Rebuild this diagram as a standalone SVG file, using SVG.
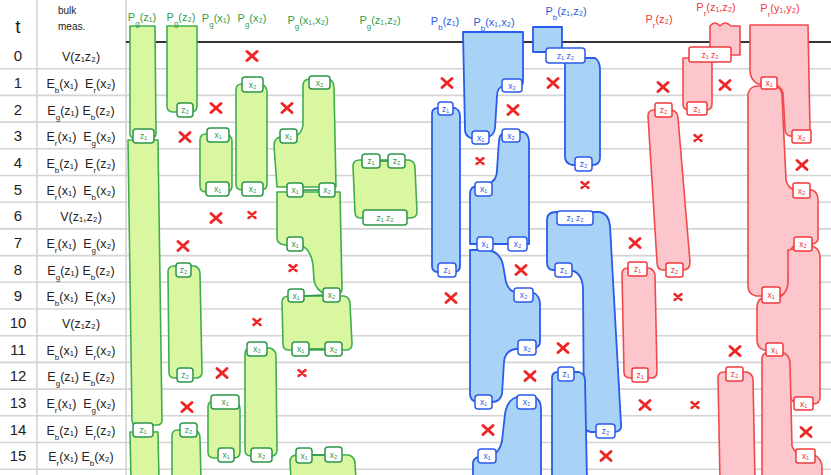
<svg xmlns="http://www.w3.org/2000/svg" xmlns:xlink="http://www.w3.org/1999/xlink" width="831" height="475" viewBox="0 0 831 475">
<style>
text{font-family:"Liberation Sans","DejaVu Sans",sans-serif}
.grid{stroke:#d4d4d4;stroke-width:1.6}
.row{font-size:12.5px;fill:#222;text-anchor:middle}
.tn{font-size:15px;fill:#222;text-anchor:middle}
.sb{font-size:8px;baseline-shift:sub}
.hg{font-size:11px;fill:#2f9d4c;text-anchor:middle}
.hb{font-size:11px;fill:#2b5ce6;text-anchor:middle}
.hr{font-size:11px;fill:#ef3a3a;text-anchor:middle}
.G{fill:#d9f6a0;stroke:#3fae4f;stroke-width:1.6;stroke-linejoin:round}
.B{fill:#a9d2f7;stroke:#2a5bea;stroke-width:1.8;stroke-linejoin:round}
.R{fill:#fcc6cc;stroke:#f2494b;stroke-width:1.6;stroke-linejoin:round}
.ng rect{fill:#fff;stroke:#2c9748;stroke-width:1.5}
.nb rect{fill:#fff;stroke:#2a5bea;stroke-width:1.5}
.nr rect{fill:#fff;stroke:#f0393d;stroke-width:1.5}
.ng text{fill:#2c9748}.nb text{fill:#2a5bea}.nr text{fill:#ee3336}
.n text{font-size:8.5px;text-anchor:middle;dominant-baseline:central}
.cg{stroke:#2c9748;stroke-width:1.6;fill:none}
.cb{stroke:#2a5bea;stroke-width:1.6;fill:none}
.xm{stroke:#f02626;stroke-width:3;stroke-linecap:round;fill:none}
</style>
<defs>
<path id="X" class="xm" d="M-5,-4.5 L5,4.5 M5,-4.5 L-5,4.5"/>
<path id="x" class="xm" d="M-3.5,-3 L3.5,3 M3.5,-3 L-3.5,3" style="stroke-width:2.5"/>
</defs>
<rect width="831" height="475" fill="#fff"/>
<g id="grid">
<line class="grid" x1="37" y1="0" x2="37" y2="475"/>
<line class="grid" x1="126" y1="0" x2="126" y2="475"/>
<g class="grid">
<line x1="0" y1="68.7" x2="831" y2="68.7"/><line x1="0" y1="95.4" x2="831" y2="95.4"/>
<line x1="0" y1="122.1" x2="831" y2="122.1"/><line x1="0" y1="148.8" x2="831" y2="148.8"/>
<line x1="0" y1="175.5" x2="831" y2="175.5"/><line x1="0" y1="202.2" x2="831" y2="202.2"/>
<line x1="0" y1="228.9" x2="831" y2="228.9"/><line x1="0" y1="255.6" x2="831" y2="255.6"/>
<line x1="0" y1="282.3" x2="831" y2="282.3"/><line x1="0" y1="309" x2="831" y2="309"/>
<line x1="0" y1="335.7" x2="831" y2="335.7"/><line x1="0" y1="362.4" x2="831" y2="362.4"/>
<line x1="0" y1="389.1" x2="831" y2="389.1"/><line x1="0" y1="415.8" x2="831" y2="415.8"/>
<line x1="0" y1="442.5" x2="831" y2="442.5"/><line x1="0" y1="469.2" x2="831" y2="469.2"/>
</g>
<line x1="126" y1="42" x2="831" y2="42" stroke="#333" stroke-width="2"/>
</g>
<g id="regions">
<path class="G" d="M130,26 L155,26 L156,133 Q156,138 151,138 L134,138 Q130,138 130,133 Z"/>
<path class="G" d="M128,140 L158,140 L162,420 Q162,425 157,425 L137,425 Q132,425 132,420 Z"/>
<path class="G" d="M130,432 L158,432 L159,480 L131,480 Z"/>
<path class="G" d="M167,26 L197,26 L197,106 Q197,112 191,112 L173,112 Q167,112 167,106 Z"/>
<path class="G" d="M168,272 Q168,266 174,266 L195,266 Q200,268 200,274 L202,372 Q202,378 196,378 L174,378 Q169,378 169,372 Z"/>
<path class="G" d="M172,436 Q172,430 178,430 L195,430 Q200,432 200,438 L201,480 L172,480 Z"/>
<path class="G" d="M200,140 Q200,134 206,134 L227,134 Q232,136 232,142 L232,186 Q232,192 226,192 L206,192 Q200,192 200,186 Z"/>
<path class="G" d="M208,407 Q208,401 214,401 L234,401 Q240,403 240,409 L240,452 Q240,458 234,458 L214,458 Q208,458 208,452 Z"/>
<path class="G" d="M236,90 Q236,84 242,84 L261,84 Q267,86 267,92 L267,184 Q267,190 261,190 L242,190 Q236,190 236,184 Z"/>
<path class="G" d="M245,354 Q245,348 251,348 L270,348 Q276,350 276,356 L277,450 Q277,456 271,456 L251,456 Q245,456 245,450 Z"/>
<path class="G" d="M303,86 Q303,79 310,79 L328,79 Q334,80 334,88 L336,187 L277,187 L274,146 Q274,137 282,137 L294,137 Q302,134 303,125 Z"/>
<path class="G" d="M277,192 L340,192 L342,289 Q342,294 336,294 L326,294 Q316,291 314,280 L313,265 Q311,249 300,245 L285,245 Q277,244 277,238 Z"/>
<path class="G" d="M282,302 Q282,296 290,296 L344,296 Q350,297 350,304 L352,344 Q352,350 346,350 L288,350 Q283,350 283,344 Z"/>
<path class="G" d="M290,462 Q290,455 297,455 L349,455 Q355,457 355,464 L356,480 L291,480 Z"/>
<path class="G" d="M353,166 Q353,160 360,160 L409,160 Q415,161 415,168 L417,212 Q417,218 410,218 L360,218 Q355,218 355,212 Z"/>
<path class="B" d="M432,114 Q432,108 438,108 L455,108 Q460,110 460,116 L460,266 Q460,272 454,272 L438,272 Q432,272 432,266 Z"/>
<path class="B" d="M463,32 L523,32 L523,82 Q523,86 517,86 L503,86 Q497,88 497,96 L495,128 Q494,137 486,137 L471,138 Q465,136 465,130 Z"/>
<path class="B" d="M499,140 Q500,132 508,132 L523,132 Q529,134 529,142 L529,244 L470,244 L470,194 Q470,186 478,186 L488,184 Q497,181 497,170 Z"/>
<path class="B" d="M470,250 L488,250 Q500,252 503,265 L506,282 Q509,293 520,293 L534,293 Q540,296 540,305 L540,342 Q540,348 532,348 L515,349 Q505,351 504,362 L502,394 Q500,402 492,402 L476,402 Q470,400 470,394 Z"/>
<path class="B" d="M517,397 L534,397 Q541,399 541,409 L541,480 L473,480 L473,462 Q475,456 484,456 L493,455 Q500,451 502,441 L505,414 Q507,400 517,397 Z"/>
<path class="B" d="M533,27 L562,27 L562,52 L533,52 Z"/>
<path class="B" d="M565,58 L595,58 Q600,61 600,70 L600,158 Q600,165 592,165 L572,165 Q565,163 565,157 Z"/>
<path class="B" d="M547,220 Q547,212 556,212 L600,212 Q609,214 610,226 L621,424 Q622,431 615,432 L591,432 Q584,431 584,424 L583,288 Q582,272 570,270 L553,270 Q547,270 547,262 Z"/>
<path class="B" d="M552,378 Q552,372 558,372 L579,372 Q585,374 585,380 L587,480 L552,480 Z"/>
<path class="R" d="M648,116 Q648,110 654,110 L672,110 Q678,112 678,118 L690,262 Q690,270 683,270 L663,270 Q657,270 657,262 Z"/>
<path class="R" d="M622,274 Q622,268 628,268 L649,268 Q655,270 655,276 L657,372 Q657,378 651,378 L630,378 Q624,378 624,372 Z"/>
<path class="R" d="M710,26 Q715,20 720,26 Q725,20 731,26 L740,26 L740,55 L710,55 Z"/>
<path class="R" d="M683,58 L712,58 L712,104 Q712,110 706,110 L689,110 Q683,110 683,104 Z"/>
<path class="R" d="M718,378 Q718,372 724,372 L747,372 Q753,374 753,380 L755,480 L720,480 Z"/>
<path class="R" d="M750,25 L808,25 L810,130 Q810,136 804,136 L790,136 Q785,135 785,128 L783,93 Q780,84 772,84 L758,84 Q750,80 750,70 Z"/>
<path class="R" d="M748,94 Q750,86 758,86 L775,86 Q782,88 782,96 L786,180 Q788,189 796,190 L812,190 Q818,192 818,200 L818,238 Q818,243 812,244 L798,244 Q790,246 790,256 L788,286 Q786,296 777,296 L756,296 Q748,294 748,286 Z"/>
<path class="R" d="M788,250 L812,246 Q820,248 820,258 L820,397 Q820,404 813,404 L798,404 Q790,402 790,394 L787,360 Q785,350 777,350 L764,350 Q757,348 757,340 L757,306 Q758,297 768,297 L780,297 Q788,292 788,282 Z"/>
<path class="R" d="M762,358 Q763,352 770,352 L782,352 Q790,355 790,364 L792,446 Q795,455 805,455 L814,455 Q822,458 822,468 L822,480 L762,480 Z"/>
</g>
<g id="labels">
<text class="tn" x="18" y="33" style="font-size:19px">t</text>
<text x="58" y="14" style="font-size:10px;fill:#222">bulk</text>
<text x="58" y="30" style="font-size:10px;fill:#222">meas.</text>
<text class="tn" x="18" y="61">0</text><text class="tn" x="18" y="88">1</text><text class="tn" x="18" y="115">2</text>
<text class="tn" x="18" y="141">3</text><text class="tn" x="18" y="168">4</text><text class="tn" x="18" y="195">5</text>
<text class="tn" x="18" y="221">6</text><text class="tn" x="18" y="248">7</text><text class="tn" x="18" y="275">8</text>
<text class="tn" x="18" y="301">9</text><text class="tn" x="18" y="328">10</text><text class="tn" x="18" y="355">11</text>
<text class="tn" x="18" y="381">12</text><text class="tn" x="18" y="408">13</text><text class="tn" x="18" y="435">14</text>
<text class="tn" x="18" y="461">15</text>
<text class="row" x="81" y="61">V(z₁z₂)</text>
<text class="row" x="81" y="88">E<tspan class="sb">b</tspan>(x₁)&#160;&#160;E<tspan class="sb">r</tspan>(x₂)</text>
<text class="row" x="81" y="115">E<tspan class="sb">g</tspan>(z₁) E<tspan class="sb">b</tspan>(z₂)</text>
<text class="row" x="81" y="141">E<tspan class="sb">r</tspan>(x₁)&#160;&#160;E<tspan class="sb">g</tspan>(x₂)</text>
<text class="row" x="81" y="168">E<tspan class="sb">b</tspan>(z₁)&#160;&#160;E<tspan class="sb">r</tspan>(z₂)</text>
<text class="row" x="81" y="195">E<tspan class="sb">r</tspan>(x₁)&#160;&#160;E<tspan class="sb">b</tspan>(x₂)</text>
<text class="row" x="81" y="221">V(z₁,z₂)</text>
<text class="row" x="81" y="248">E<tspan class="sb">r</tspan>(x₁)&#160;&#160;E<tspan class="sb">g</tspan>(x₂)</text>
<text class="row" x="81" y="275">E<tspan class="sb">g</tspan>(z₁) E<tspan class="sb">b</tspan>(z₂)</text>
<text class="row" x="81" y="301">E<tspan class="sb">b</tspan>(x₁)&#160;&#160;E<tspan class="sb">r</tspan>(x₂)</text>
<text class="row" x="81" y="328">V(z₁z₂)</text>
<text class="row" x="81" y="355">E<tspan class="sb">b</tspan>(x₁)&#160;&#160;E<tspan class="sb">r</tspan>(x₂)</text>
<text class="row" x="81" y="381">E<tspan class="sb">g</tspan>(z₁) E<tspan class="sb">b</tspan>(z₂)</text>
<text class="row" x="81" y="408">E<tspan class="sb">r</tspan>(x₁)&#160;&#160;E<tspan class="sb">g</tspan>(x₂)</text>
<text class="row" x="81" y="435">E<tspan class="sb">b</tspan>(z₁)&#160;&#160;E<tspan class="sb">r</tspan>(z₂)</text>
<text class="row" x="81" y="461">E<tspan class="sb">r</tspan>(x₁) E<tspan class="sb">b</tspan>(x₂)</text>
<text class="hg" x="142" y="21">P<tspan class="sb">g</tspan>(z₁)</text>
<text class="hg" x="181" y="21">P<tspan class="sb">g</tspan>(z₂)</text>
<text class="hg" x="216" y="22">P<tspan class="sb">g</tspan>(x₁)</text>
<text class="hg" x="252" y="22">P<tspan class="sb">g</tspan>(x₂)</text>
<text class="hg" x="308" y="24">P<tspan class="sb">g</tspan>(x₁,x₂)</text>
<text class="hg" x="380" y="24">P<tspan class="sb">g</tspan>(z₁,z₂)</text>
<text class="hb" x="445" y="25">P<tspan class="sb">b</tspan>(z₁)</text>
<text class="hb" x="494" y="26">P<tspan class="sb">b</tspan>(x₁,x₂)</text>
<text class="hb" x="566" y="15">P<tspan class="sb">b</tspan>(z₁,z₂)</text>
<text class="hr" x="659" y="23">P<tspan class="sb">r</tspan>(z₂)</text>
<text class="hr" x="716" y="11">P<tspan class="sb">r</tspan>(z₁,z₂)</text>
<text class="hr" x="780" y="12">P<tspan class="sb">r</tspan>(y₁,y₂)</text>
</g>
<g id="connectors">
<path class="cg" d="M303,190 L319,190"/>
<path class="cg" d="M304,296 L323,295"/>
<path class="cg" d="M308,349 L324,349"/>
<path class="cg" d="M312,455 L325,455"/>
<path class="cb" d="M493,244 L508,244"/>
<path class="cg" d="M380,161 L388,161"/>
</g>
<g id="nodes" class="n">
<g id="n-g-z1-3" class="ng"><rect x="133" y="129" width="21" height="14" rx="3"/><text x="143.5" y="136">z₁</text></g>
<g id="n-g-z1-14" class="ng"><rect x="133" y="423" width="20" height="14" rx="3"/><text x="143" y="430">z₁</text></g>
<g id="n-g-z2-2" class="ng"><rect x="177" y="103" width="16" height="14" rx="3"/><text x="185" y="110">z₂</text></g>
<g id="n-g-z2-8" class="ng"><rect x="176" y="263" width="15" height="14" rx="3"/><text x="183.5" y="270">z₂</text></g>
<g id="n-g-z2-12" class="ng"><rect x="177" y="368" width="16" height="14" rx="3"/><text x="185" y="375">z₂</text></g>
<g id="n-g-z2-14" class="ng"><rect x="180" y="423" width="17" height="14" rx="3"/><text x="188.5" y="430">z₂</text></g>
<g id="n-g-x1-3" class="ng"><rect x="207" y="128" width="22" height="14" rx="3"/><text x="218" y="135">x₁</text></g>
<g id="n-g-x1-5" class="ng"><rect x="206" y="182" width="23" height="14" rx="3"/><text x="217.5" y="189">x₁</text></g>
<g id="n-g-x1-13" class="ng"><rect x="211" y="395" width="28" height="14" rx="3"/><text x="225" y="402">x₁</text></g>
<g id="n-g-x1-15" class="ng"><rect x="218" y="448" width="16" height="14" rx="3"/><text x="226" y="455">x₁</text></g>
<g id="n-g-x2-1" class="ng"><rect x="242" y="77" width="21" height="15" rx="3"/><text x="252.5" y="84.5">x₂</text></g>
<g id="n-g-x2-5" class="ng"><rect x="242" y="182" width="21" height="14" rx="3"/><text x="252.5" y="189">x₂</text></g>
<g id="n-g-x2-11" class="ng"><rect x="247" y="342" width="20" height="14" rx="3"/><text x="257" y="349">x₂</text></g>
<g id="n-g-x2-15" class="ng"><rect x="251" y="448" width="21" height="14" rx="3"/><text x="261.5" y="455">x₂</text></g>
<g id="n-g12-x2-1" class="ng"><rect x="309" y="76" width="21" height="13" rx="3"/><text x="319.5" y="82.5">x₂</text></g>
<g id="n-g12-x1-3" class="ng"><rect x="280" y="129" width="17" height="14" rx="3"/><text x="288.5" y="136">x₁</text></g>
<g id="n-g12-x1-5" class="ng"><rect x="287" y="183" width="16" height="14" rx="3"/><text x="295" y="190">x₁</text></g>
<g id="n-g12-x2-5" class="ng"><rect x="319" y="183" width="16" height="14" rx="3"/><text x="327" y="190">x₂</text></g>
<g id="n-g12-x1-7" class="ng"><rect x="287" y="237" width="16" height="14" rx="3"/><text x="295" y="244">x₁</text></g>
<g id="n-g12-x1-9" class="ng"><rect x="288" y="289" width="16" height="13" rx="3"/><text x="296" y="295.5">x₁</text></g>
<g id="n-g12-x2-9" class="ng"><rect x="323" y="288" width="17" height="14" rx="3"/><text x="331.5" y="295">x₂</text></g>
<g id="n-g12-x1-11" class="ng"><rect x="292" y="342" width="17" height="14" rx="3"/><text x="300.5" y="349">x₁</text></g>
<g id="n-g12-x2-11" class="ng"><rect x="325" y="342" width="17" height="14" rx="3"/><text x="333.5" y="349">x₂</text></g>
<g id="n-g12-x1-15" class="ng"><rect x="296" y="448" width="16" height="15" rx="3"/><text x="304" y="455.5">x₁</text></g>
<g id="n-g12-x2-15" class="ng"><rect x="325" y="447" width="17" height="15" rx="3"/><text x="333.5" y="454.5">x₂</text></g>
<g id="n-gz-z1" class="ng"><rect x="362" y="154" width="18" height="14" rx="3"/><text x="371" y="161">z₁</text></g>
<g id="n-gz-z2" class="ng"><rect x="388" y="154" width="17" height="14" rx="3"/><text x="396.5" y="161">z₂</text></g>
<g id="n-gz-z12" class="ng"><rect x="363" y="210" width="44" height="15" rx="3"/><text x="385" y="217.5">z₁ z₂</text></g>
<g id="n-b-z1-2" class="nb"><rect x="438" y="102" width="15" height="13" rx="3"/><text x="445.5" y="108.5">z₁</text></g>
<g id="n-b-z1-8" class="nb"><rect x="438" y="263" width="18" height="14" rx="3"/><text x="447" y="270">z₁</text></g>
<g id="n-b-x2-1" class="nb"><rect x="502" y="79" width="20" height="13" rx="3"/><text x="512" y="85.5">x₂</text></g>
<g id="n-b-x1-3" class="nb"><rect x="472" y="131" width="17" height="13" rx="3"/><text x="480.5" y="137.5">x₁</text></g>
<g id="n-b-x2-3" class="nb"><rect x="502" y="129" width="18" height="13" rx="3"/><text x="511" y="135.5">x₂</text></g>
<g id="n-b-x1-5" class="nb"><rect x="475" y="182" width="17" height="14" rx="3"/><text x="483.5" y="189">x₁</text></g>
<g id="n-b-x1-7" class="nb"><rect x="477" y="237" width="16" height="14" rx="3"/><text x="485" y="244">x₁</text></g>
<g id="n-b-x2-7" class="nb"><rect x="508" y="237" width="19" height="14" rx="3"/><text x="517.5" y="244">x₂</text></g>
<g id="n-b-x2-9" class="nb"><rect x="514" y="288" width="19" height="14" rx="3"/><text x="523.5" y="295">x₂</text></g>
<g id="n-b-x2-11" class="nb"><rect x="518" y="340" width="18" height="15" rx="3"/><text x="527" y="347.5">x₂</text></g>
<g id="n-b-x1-13" class="nb"><rect x="475" y="395" width="17" height="14" rx="3"/><text x="483.5" y="402">x₁</text></g>
<g id="n-b-x2-13" class="nb"><rect x="517" y="395" width="19" height="14" rx="3"/><text x="526.5" y="402">x₂</text></g>
<g id="n-b-x1-15" class="nb"><rect x="478" y="449" width="18" height="14" rx="3"/><text x="487" y="456">x₁</text></g>
<g id="n-b-z12-0" class="nb"><rect x="546" y="48" width="39" height="15" rx="3"/><text x="565.5" y="55.5">z₁ z₂</text></g>
<g id="n-b-z2-4" class="nb"><rect x="575" y="157" width="17" height="14" rx="3"/><text x="583.5" y="164">z₂</text></g>
<g id="n-b-z12-6" class="nb"><rect x="557" y="211" width="36" height="14" rx="3"/><text x="575" y="218">z₁ z₂</text></g>
<g id="n-b-z1-8b" class="nb"><rect x="555" y="263" width="17" height="14" rx="3"/><text x="563.5" y="270">z₁</text></g>
<g id="n-b-z1-12" class="nb"><rect x="558" y="367" width="16" height="14" rx="3"/><text x="566" y="374">z₁</text></g>
<g id="n-b-z2-14" class="nb"><rect x="596" y="424" width="19" height="14" rx="3"/><text x="605.5" y="431">z₂</text></g>
<g id="n-r-z2-2" class="nr"><rect x="655" y="103" width="17" height="14" rx="2"/><text x="663.5" y="110">z₂</text></g>
<g id="n-r-z2-8" class="nr"><rect x="666" y="263" width="17" height="14" rx="2"/><text x="674.5" y="270">z₂</text></g>
<g id="n-r-z1-8" class="nr"><rect x="628" y="262" width="19" height="14" rx="2"/><text x="637.5" y="269">z₁</text></g>
<g id="n-r-z1-12" class="nr"><rect x="632" y="368" width="16" height="14" rx="2"/><text x="640" y="375">z₁</text></g>
<g id="n-r-z12-0" class="nr"><rect x="689" y="47" width="42" height="15" rx="2"/><text x="710" y="54.5">z₁ z₂</text></g>
<g id="n-r-z1-2" class="nr"><rect x="687" y="102" width="20" height="13" rx="2"/><text x="697" y="108.5">z₁</text></g>
<g id="n-r-z2-12" class="nr"><rect x="726" y="367" width="17" height="14" rx="2"/><text x="734.5" y="374">z₂</text></g>
<g id="n-r-x1-1" class="nr"><rect x="761" y="77" width="16" height="12" rx="2"/><text x="769" y="83">x₁</text></g>
<g id="n-r-x2-3" class="nr"><rect x="792" y="130" width="19" height="13" rx="2"/><text x="801.5" y="136.5">x₂</text></g>
<g id="n-r-x2-5" class="nr"><rect x="793" y="183" width="17" height="15" rx="2"/><text x="801.5" y="190.5">x₂</text></g>
<g id="n-r-x2-7" class="nr"><rect x="794" y="237" width="18" height="14" rx="2"/><text x="803" y="244">x₂</text></g>
<g id="n-r-x1-9" class="nr"><rect x="762" y="287" width="18" height="16" rx="2"/><text x="771" y="295">x₁</text></g>
<g id="n-r-x1-11" class="nr"><rect x="766" y="343" width="17" height="13" rx="2"/><text x="774.5" y="349.5">x₁</text></g>
<g id="n-r-x1-13" class="nr"><rect x="794" y="397" width="19" height="13" rx="2"/><text x="803.5" y="403.5">x₁</text></g>
<g id="n-r-x1-15" class="nr"><rect x="796" y="449" width="19" height="14" rx="2"/><text x="805.5" y="456">x₁</text></g>
</g>
<g id="marks">
<use href="#X" x="252" y="56"/><use href="#X" x="216" y="108"/><use href="#X" x="185" y="137"/>
<use href="#X" x="287" y="108"/><use href="#X" x="183" y="246"/><use href="#X" x="216" y="218"/>
<use href="#x" x="252" y="215"/><use href="#x" x="257" y="322"/><use href="#x" x="293" y="268"/>
<use href="#x" x="302" y="373"/><use href="#X" x="222" y="373"/><use href="#X" x="187" y="407"/>
<use href="#X" x="447" y="83"/><use href="#X" x="513" y="110"/><use href="#x" x="480" y="161"/>
<use href="#X" x="521" y="270"/><use href="#X" x="451" y="298"/><use href="#X" x="530" y="376"/>
<use href="#X" x="488" y="430"/><use href="#X" x="553" y="83"/><use href="#x" x="585" y="185"/>
<use href="#X" x="563" y="348"/><use href="#X" x="606" y="456"/>
<use href="#X" x="663" y="87"/><use href="#X" x="725" y="85"/><use href="#x" x="698" y="138"/>
<use href="#X" x="635" y="243"/><use href="#x" x="678" y="297"/><use href="#X" x="645" y="405"/>
<use href="#x" x="695" y="405"/><use href="#X" x="802" y="165"/><use href="#X" x="735" y="351"/>
<use href="#X" x="806" y="432"/>
</g>
</svg>
